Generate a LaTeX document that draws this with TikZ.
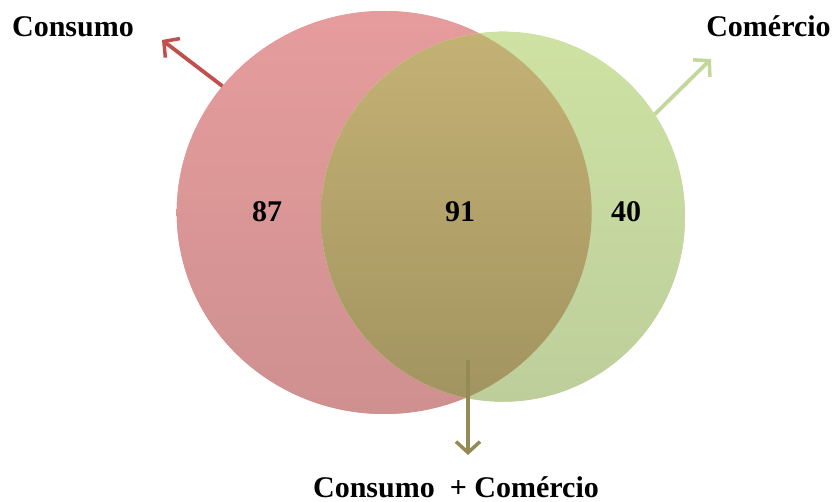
\documentclass[tikz,border=0pt]{standalone}
\usepackage{fontspec}
\setmainfont{Liberation Serif}
\usetikzlibrary{shapes.geometric,arrows.meta}
\definecolor{redtop}{RGB}{230,156,156}
\definecolor{redbot}{RGB}{207,144,144}
\definecolor{grntop}{RGB}{206,226,163}
\definecolor{grnbot}{RGB}{189,206,155}
\definecolor{midtop}{RGB}{196,177,116}
\definecolor{midbot}{RGB}{162,148,96}
\definecolor{redarrow}{RGB}{192,80,77}
\definecolor{grnarrow}{RGB}{195,214,155}
\definecolor{midarrow}{RGB}{148,138,84}
\tikzset{
  setL/.style={ellipse,inner sep=0pt,minimum width=415pt,minimum height=403pt,fill=redtop!50!redbot,top color=redtop,bottom color=redbot,draw=none},
  setR/.style={ellipse,inner sep=0pt,minimum width=364pt,minimum height=370pt,fill=grntop!50!grnbot,top color=grntop,bottom color=grnbot,draw=none},
  lbl/.style={font=\fontsize{30}{34}\selectfont\bfseries,inner sep=0pt},
  arr/.style={line width=3.8pt,-{Straight Barb[length=11pt,width=24pt,line width=3.5pt]}}
}
\begin{document}
\begin{tikzpicture}[x=1pt,y=-1pt]
\useasboundingbox (0,0) rectangle (833,502);
\node[setL] (L) at (384.2,212.5) {};
\node[setR] (R) at (503,216.7) {};
\begin{scope}
  \clip (384.2,212.5) ellipse [x radius=207.5pt, y radius=201.5pt];
  \shade[top color=midtop,bottom color=midbot] (503,216.7) ellipse [x radius=182pt, y radius=185pt];
\end{scope}
\node[lbl] (n87) at (267,212) {87};
\node[lbl] (n91) at (460,212) {91};
\node[lbl] (n40) at (626,212) {40};
\node[lbl,anchor=base] (tc) at (73,37) {Consumo};
\node[lbl,anchor=base] (tm) at (768.5,37) {Comércio};
\node[lbl,anchor=base] (tb) at (456,497) {Consumo\ \ + Comércio};
\coordinate (ac) at (162,40);
\coordinate (am) at (711,59);
\coordinate (bs) at (468,360);
\coordinate (be) at (468,455);
\draw[arr,draw=redarrow] (L.142.5) -- (ac);
\draw[arr,draw=grnarrow] (R.34.6) -- (am);
\draw[arr,draw=midarrow] (bs) -- (be);
\end{tikzpicture}
\end{document}
